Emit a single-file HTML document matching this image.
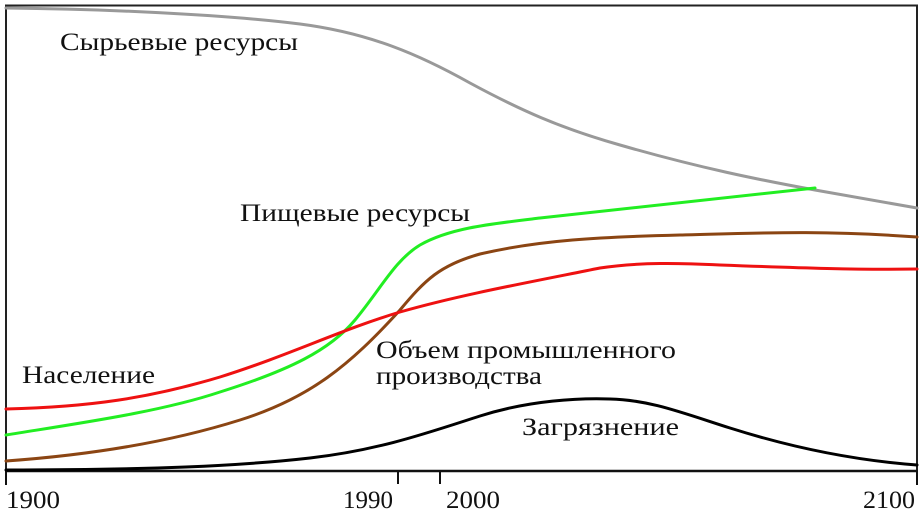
<!DOCTYPE html>
<html><head><meta charset="utf-8"><style>
html,body{margin:0;padding:0;background:#fff;}
svg{display:block;}
text{font-family:"Liberation Serif","DejaVu Serif",serif;font-size:25px;fill:#111;}
</style></head><body>
<svg width="923" height="515" viewBox="0 0 923 515" xmlns="http://www.w3.org/2000/svg">
<rect x="0" y="0" width="923" height="515" fill="#fff"/>
<path d="M6,471 V5.5 H917 V471" fill="none" stroke="#222" stroke-width="2"/>
<line x1="5" y1="471" x2="918" y2="471" stroke="#111" stroke-width="2.5"/>
<g stroke="#111" stroke-width="2">
<line x1="6" y1="471" x2="6" y2="485"/>
<line x1="398" y1="471" x2="398" y2="484"/>
<line x1="440" y1="471" x2="440" y2="484"/>
<line x1="917" y1="471" x2="917" y2="485"/>
</g>
<g fill="none" stroke-width="3" stroke-linecap="round" stroke-linejoin="round">
<path stroke="#999" d="M6,8 C100,9 220,14 300,24 C370,33 420,55 470,83 C520,110 560,128 620,145 C700,168 760,180 815,190 C860,198 890,203 917,208"/>
<path stroke="#22ee22" d="M6,435 C80,423 160,412 220,392 C290,370 330,350 355,320 C380,290 395,260 420,245 C450,228 490,224 540,218 C620,210 700,200 815,188"/>
<path stroke="#8b4513" d="M6,461 C90,455 170,442 240,420 C310,398 350,365 400,310 C425,280 440,265 480,254 C540,240 600,237 680,235 C760,233 820,230 917,237"/>
<path stroke="#ee1111" d="M6,409 C90,407 150,398 220,377 C290,355 340,330 400,312 C460,295 520,284 600,268 C640,262 680,263 720,265 C800,268 860,270 917,269"/>
<path stroke="#000" d="M6,470 C150,470 240,466 310,458 C380,450 430,432 480,416 C530,400 580,398 610,399 C650,400 680,412 730,428 C790,447 850,460 917,465"/>
</g>
<text x="60" y="50" textLength="238" lengthAdjust="spacingAndGlyphs">Сырьевые ресурсы</text>
<text x="240" y="221" textLength="230" lengthAdjust="spacingAndGlyphs">Пищевые ресурсы</text>
<text x="22" y="383" textLength="133" lengthAdjust="spacingAndGlyphs">Население</text>
<text x="376" y="358" textLength="300" lengthAdjust="spacingAndGlyphs">Объем промышленного</text>
<text x="376" y="384" textLength="166" lengthAdjust="spacingAndGlyphs">производства</text>
<text x="522" y="435" textLength="157" lengthAdjust="spacingAndGlyphs">Загрязнение</text>
<text x="6" y="508" textLength="54" lengthAdjust="spacingAndGlyphs">1900</text>
<text x="343" y="508" textLength="50" lengthAdjust="spacingAndGlyphs">1990</text>
<text x="446" y="508" textLength="54" lengthAdjust="spacingAndGlyphs">2000</text>
<text x="863" y="508" textLength="52" lengthAdjust="spacingAndGlyphs">2100</text>
</svg>
</body></html>
